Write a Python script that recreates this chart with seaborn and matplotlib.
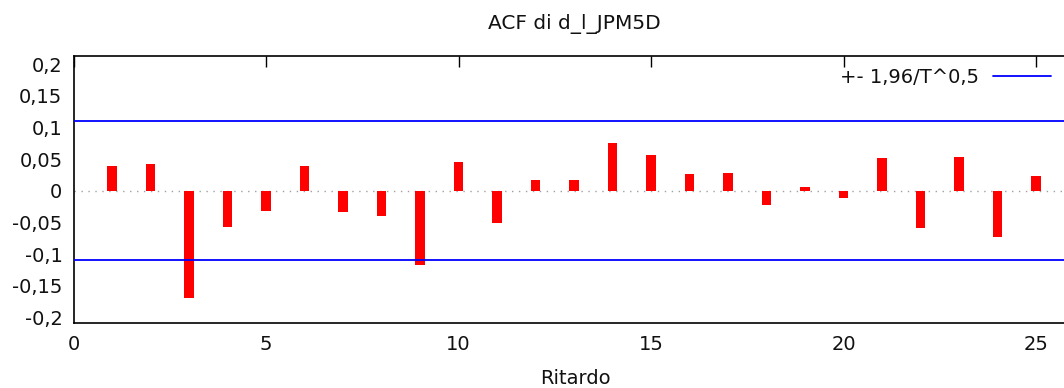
import matplotlib
matplotlib.use("Agg")
import matplotlib.pyplot as plt
import seaborn as sns
import numpy as np

# Autocorrelations of d_l_JPM5D, lags 1..25
lags = list(range(1, 26))
acf = [0.039, 0.042, -0.170, -0.057, -0.032, 0.039, -0.034, -0.040, -0.118, 0.045,
       -0.051, 0.017, 0.017, 0.075, 0.056, 0.026, 0.028, -0.023, 0.006, -0.012,
       0.051, -0.059, 0.054, -0.073, 0.023]
band = 0.110  # 1.96 / sqrt(T)

yticks = [0.2, 0.15, 0.1, 0.05, 0.0, -0.05, -0.1, -0.15, -0.2]
ytick_labels = ["0,2", "0,15", "0,1", "0,05", "0", "-0,05", "-0,1", "-0,15", "-0,2"]
xticks = [0, 5, 10, 15, 20, 25]
xtick_labels = ["0", "5", "10", "15", "20", "25"]

sns.set_style("white")
plt.rcParams["font.family"] = ["DejaVu Sans"]
plt.rcParams["font.size"] = 14
plt.rcParams["text.color"] = "#111111"

W, H = 1064, 388
fig = plt.figure(figsize=(W / 100, H / 100), dpi=100)
ax = fig.add_axes([73.5 / W, 65 / H, 1001 / W, 267 / H])

ax.axhline(0, color="#a0a0a0", lw=1.0, ls=(0, (1, 4)), zorder=1)
sns.barplot(x=lags, y=acf, native_scale=True, width=0.25, color="#ff0000",
            saturation=1, edgecolor="none", ax=ax, zorder=2)
ax.axhline(band, color="#0000ff", lw=1.3, zorder=3, label="+- 1,96/T^0,5")
ax.axhline(-band, color="#0000ff", lw=1.3, zorder=3)

ax.set_xlim(0, 26)
ax.set_ylim(-0.209, 0.213)
ax.set_xticks(xticks)
ax.set_xticklabels(xtick_labels)
ax.set_yticks(yticks)
ax.set_yticklabels(ytick_labels)
ax.tick_params(axis="both", direction="in", length=8, width=1, colors="black",
               labelcolor="#111111", labelsize=14, pad=8, top=True, right=False)
ax.tick_params(axis="x", pad=9)
for s in ax.spines.values():
    s.set_color("black")
    s.set_linewidth(1.2)

ax.set_xlabel("")
ax.set_ylabel("")

fig.text(574 / W, 1 - 24.5 / H, "ACF di d_l_JPM5D", ha="center", va="center", fontsize=14.5)
fig.text(575 / W, 1 - 378 / H, "Ritardo", ha="center", va="center", fontsize=14)

ax.legend(loc="center right", bbox_to_anchor=(1051 / W, 1 - 77.5 / H),
          bbox_transform=fig.transFigure, frameon=False, markerfirst=False,
          handlelength=3.0, handletextpad=0.7, borderpad=0, borderaxespad=0,
          fontsize=14)

fig.savefig("out.png", dpi=100)
